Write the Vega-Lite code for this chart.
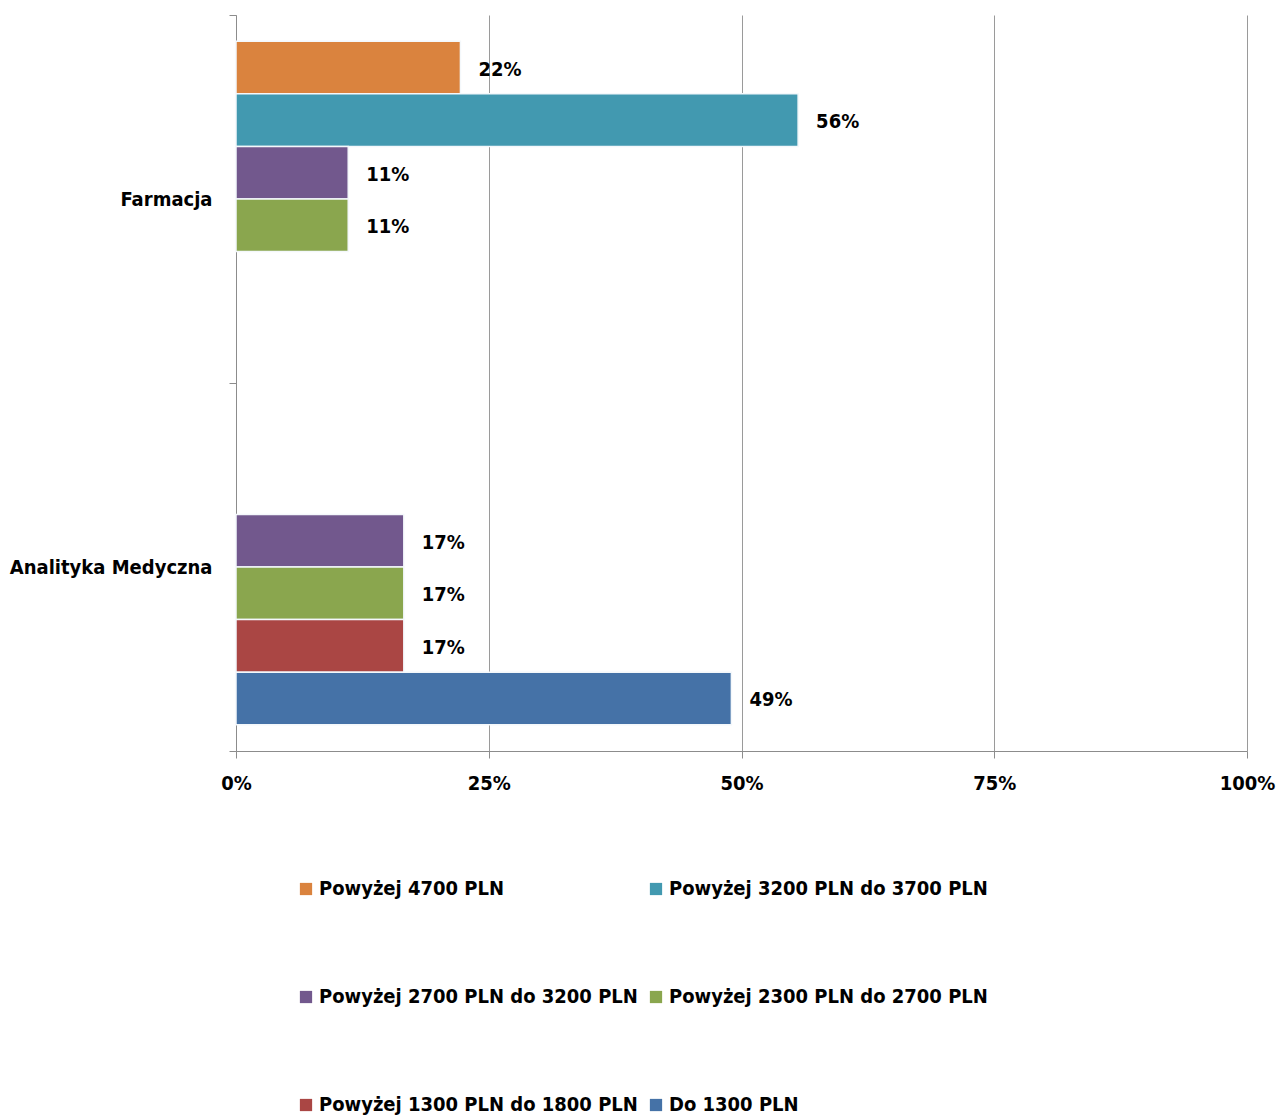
{
  "$schema": "https://vega.github.io/schema/vega-lite/v6.json",
  "autosize": "none",
  "width": 1011,
  "height": 736,
  "padding": {"left": 236, "top": 15, "right": 32, "bottom": 365},
  "background": "white",
  "config": {
    "font": "DejaVu Sans Condensed",
    "view": {"stroke": null}
  },
  "data": {
    "values": [
      {"kierunek": "Farmacja", "seria": "Powyżej 4700 PLN", "wartosc": 22.2, "etykieta": "22%"},
      {"kierunek": "Farmacja", "seria": "Powyżej 3200 PLN do 3700 PLN", "wartosc": 55.6, "etykieta": "56%"},
      {"kierunek": "Farmacja", "seria": "Powyżej 2700 PLN do 3200 PLN", "wartosc": 11.1, "etykieta": "11%"},
      {"kierunek": "Farmacja", "seria": "Powyżej 2300 PLN do 2700 PLN", "wartosc": 11.1, "etykieta": "11%"},
      {"kierunek": "Analityka Medyczna", "seria": "Powyżej 2700 PLN do 3200 PLN", "wartosc": 16.6, "etykieta": "17%"},
      {"kierunek": "Analityka Medyczna", "seria": "Powyżej 2300 PLN do 2700 PLN", "wartosc": 16.6, "etykieta": "17%"},
      {"kierunek": "Analityka Medyczna", "seria": "Powyżej 1300 PLN do 1800 PLN", "wartosc": 16.6, "etykieta": "17%"},
      {"kierunek": "Analityka Medyczna", "seria": "Do 1300 PLN", "wartosc": 49.0, "etykieta": "49%"}
    ]
  },
  "encoding": {
    "y": {
      "field": "kierunek",
      "type": "nominal",
      "sort": ["Farmacja", "Analityka Medyczna"],
      "scale": {"paddingInner": 0, "paddingOuter": 0},
      "axis": {
        "title": null,
        "tickBand": "extent",
        "domainColor": "#8c8c8c",
        "tickColor": "#8c8c8c",
        "tickSize": 7,
        "labelPadding": 17,
        "labelFontSize": 20,
        "labelFontWeight": "bold",
        "labelColor": "black",
        "labelLimit": 400,
        "grid": false
      }
    },
    "yOffset": {
      "field": "seria",
      "type": "nominal",
      "scale": {
        "domain": ["Powyżej 4700 PLN", "Powyżej 3200 PLN do 3700 PLN", "Powyżej 2700 PLN do 3200 PLN", "Powyżej 2300 PLN do 2700 PLN", "Powyżej 1300 PLN do 1800 PLN", "Do 1300 PLN"],
        "paddingInner": 0,
        "paddingOuter": 0.5
      }
    },
    "x": {
      "field": "wartosc",
      "type": "quantitative",
      "scale": {"domain": [0, 100], "nice": false},
      "axis": {
        "title": null,
        "values": [0, 25, 50, 75, 100],
        "labelExpr": "datum.value + '%'",
        "grid": true,
        "gridColor": "#9a9a9a",
        "domainColor": "#8c8c8c",
        "tickColor": "#8c8c8c",
        "tickSize": 7,
        "labelPadding": 15,
        "labelFontSize": 20,
        "labelFontWeight": "bold",
        "labelColor": "black",
        "labelFlush": false
      }
    }
  },
  "layer": [
    {
      "mark": {"type": "bar", "stroke": "#f4f8fb", "strokeWidth": 1.5},
      "encoding": {
        "color": {
          "field": "seria",
          "type": "nominal",
          "scale": {
            "domain": ["Powyżej 4700 PLN", "Powyżej 3200 PLN do 3700 PLN", "Powyżej 2700 PLN do 3200 PLN", "Powyżej 2300 PLN do 2700 PLN", "Powyżej 1300 PLN do 1800 PLN", "Do 1300 PLN"],
            "range": ["#DA833E", "#4299B0", "#72588D", "#8AA64E", "#AA4644", "#4572A7"]
          },
          "legend": {
            "title": null,
            "orient": "none",
            "direction": "horizontal",
            "legendX": 60,
            "legendY": 864,
            "columns": 2,
            "columnPadding": 8,
            "rowPadding": 88,
            "symbolType": "square",
            "symbolSize": 150,
            "symbolStrokeWidth": 0,
            "labelFontSize": 20,
            "labelFontWeight": "bold",
            "labelColor": "black",
            "labelOffset": 3,
            "labelLimit": 400
          }
        }
      }
    },
    {
      "mark": {"type": "text", "align": "left", "baseline": "middle", "dx": 18, "dy": 2, "fontSize": 20, "fontWeight": "bold", "color": "black"},
      "encoding": {
        "text": {"field": "etykieta"}
      }
    }
  ]
}
